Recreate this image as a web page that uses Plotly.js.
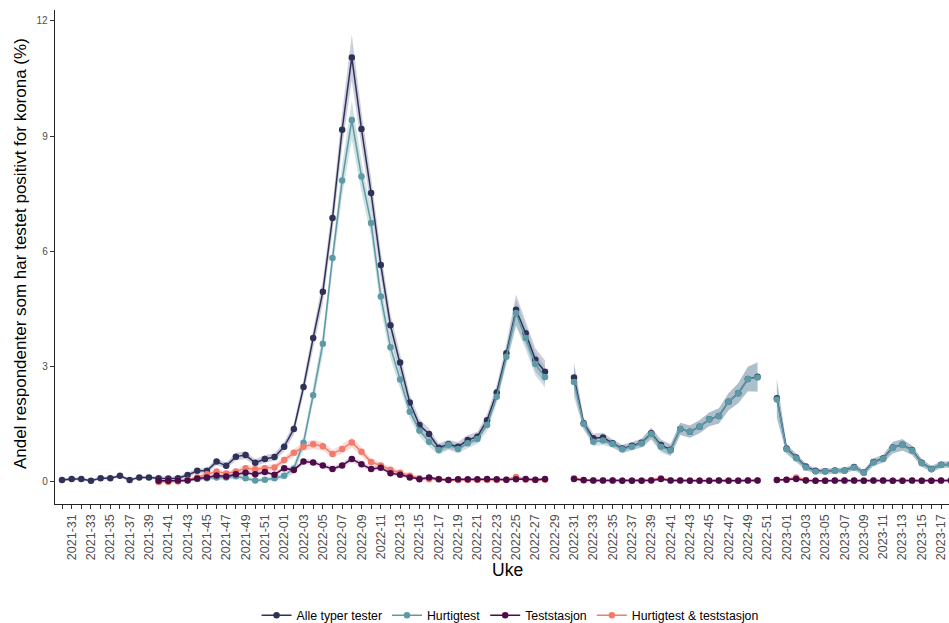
<!DOCTYPE html>
<html>
<head>
<meta charset="utf-8">
<script src="https://cdn.plot.ly/plotly-3.0.1.min.js"></script>
<style>html,body{margin:0;padding:0;background:#fff;}#chart{width:949px;height:623px;}</style>
</head>
<body>
<div id="chart"></div>
<script>
// ---- Week labels (2021-30 ... 2023-18) ----
const weekLabels = [];
[[2021, 30, 52], [2022, 1, 52], [2023, 1, 18]].forEach(function (r) {
  for (let w = r[1]; w <= r[2]; w++) weekLabels.push(r[0] + '-' + String(w).padStart(2, '0'));
});

const seriesNames = ['Alle typer tester', 'Hurtigtest', 'Teststasjon', 'Hurtigtest & teststasjon'];
const N = null;

// ---- Series values (%), one per week ----
const alle = [
  0.05, 0.08, 0.08, 0.03, 0.10, 0.10, 0.16, 0.05, 0.12, 0.12,
  0.10, 0.09, 0.10, 0.18, 0.29, 0.29, 0.53, 0.42, 0.66, 0.70,
  0.50, 0.60, 0.65, 0.92, 1.38, 2.47, 3.75, 4.95, 6.87, 9.17,
  11.05, 9.19, 7.52, 5.65, 4.08, 3.11, 2.07, 1.48, 1.25, 0.89,
  0.98, 0.92, 1.09, 1.18, 1.61, 2.33, 3.35, 4.48, 3.87, 3.18,
  2.87, N, N, 2.72, 1.53, 1.14, 1.16, 1.01, 0.87, 0.94,
  1.02, 1.27, 0.96, 0.84, 1.38, 1.31, 1.44, 1.63, 1.72, 2.09,
  2.31, 2.68, 2.74, N, 2.18, 0.87, 0.64, 0.40, 0.29, 0.28,
  0.30, 0.30, 0.39, 0.25, 0.52, 0.61, 0.90, 0.97, 0.83, 0.50,
  0.34, 0.45, 0.46
];
const hurtigtest = [
  N, N, N, N, N, N, N, N, N, N,
  0.02, 0.02, 0.03, 0.05, 0.08, 0.10, 0.12, 0.12, 0.15, 0.10,
  0.04, 0.06, 0.10, 0.16, 0.35, 1.02, 2.26, 3.60, 5.83, 7.85,
  9.42, 7.95, 6.74, 4.83, 3.51, 2.67, 1.83, 1.34, 1.05, 0.83,
  0.96, 0.86, 1.01, 1.12, 1.48, 2.22, 3.26, 4.40, 3.75, 3.07,
  2.73, N, N, 2.60, 1.51, 1.05, 1.08, 0.99, 0.85, 0.92,
  1.00, 1.25, 0.92, 0.82, 1.38, 1.31, 1.44, 1.63, 1.72, 2.09,
  2.31, 2.68, 2.72, N, 2.15, 0.85, 0.62, 0.38, 0.27, 0.27,
  0.29, 0.29, 0.38, 0.24, 0.51, 0.60, 0.89, 0.96, 0.82, 0.49,
  0.33, 0.44, 0.45
];
const teststasjon = [
  N, N, N, N, N, N, N, N, N, N,
  0.03, 0.03, 0.04, 0.04, 0.09, 0.12, 0.17, 0.14, 0.20, 0.24,
  0.20, 0.26, 0.19, 0.36, 0.31, 0.53, 0.51, 0.43, 0.34, 0.43,
  0.60, 0.46, 0.34, 0.37, 0.23, 0.19, 0.12, 0.07, 0.12, 0.07,
  0.05, 0.07, 0.07, 0.07, 0.08, 0.07, 0.06, 0.07, 0.08, 0.06,
  0.08, N, N, 0.08, 0.05, 0.04, 0.04, 0.04, 0.03, 0.03,
  0.03, 0.04, 0.08, 0.04, 0.04, 0.03, 0.03, 0.03, 0.04, 0.03,
  0.03, 0.04, 0.04, N, 0.05, 0.06, 0.08, 0.04, 0.03, 0.03,
  0.04, 0.04, 0.04, 0.03, 0.04, 0.04, 0.03, 0.03, 0.04, 0.03,
  0.03, 0.04, 0.04
];
const kombinert = [
  N, N, N, N, N, N, N, N, N, N,
  0.00, 0.00, 0.01, 0.05, 0.12, 0.20, 0.27, 0.22, 0.27, 0.36,
  0.33, 0.36, 0.38, 0.57, 0.76, 0.92, 0.98, 0.93, 0.73, 0.86,
  1.03, 0.79, 0.52, 0.43, 0.32, 0.24, 0.16, 0.10, 0.07, 0.08,
  0.05, 0.05, 0.05, 0.05, 0.05, 0.05, 0.06, 0.13, 0.06, 0.05,
  0.06, N, N, 0.10, 0.04, 0.04, 0.04, 0.04, 0.04, 0.04,
  0.04, 0.05, 0.10, 0.04, 0.04, 0.04, 0.04, 0.04, 0.04, 0.04,
  0.04, 0.04, 0.04, N, 0.05, 0.06, 0.12, 0.05, 0.03, 0.03,
  0.03, 0.03, 0.03, 0.03, 0.03, 0.03, 0.03, 0.03, 0.03, 0.03,
  0.03, 0.03, 0.03
];

// ---- Confidence-band half widths (percentage points) ----
const alleCI = [
  0.04, 0.04, 0.04, 0.04, 0.04, 0.04, 0.04, 0.04, 0.04, 0.04,
  0.05, 0.05, 0.05, 0.06, 0.07, 0.07, 0.09, 0.08, 0.10, 0.10,
  0.09, 0.10, 0.10, 0.12, 0.15, 0.20, 0.25, 0.30, 0.35, 0.45,
  0.60, 0.45, 0.40, 0.35, 0.30, 0.25, 0.20, 0.16, 0.14, 0.12,
  0.12, 0.12, 0.13, 0.13, 0.16, 0.20, 0.25, 0.40, 0.30, 0.30,
  0.30, N, N, 0.40, 0.15, 0.12, 0.12, 0.10, 0.10, 0.10,
  0.11, 0.15, 0.15, 0.15, 0.16, 0.16, 0.17, 0.18, 0.20, 0.22,
  0.26, 0.32, 0.38, N, 0.50, 0.12, 0.10, 0.08, 0.07, 0.07,
  0.07, 0.07, 0.08, 0.07, 0.10, 0.10, 0.15, 0.15, 0.12, 0.10,
  0.08, 0.08, 0.08
];
const hurtigCI = [
  N, N, N, N, N, N, N, N, N, N,
  0.03, 0.03, 0.03, 0.04, 0.05, 0.05, 0.06, 0.06, 0.07, 0.06,
  0.05, 0.05, 0.06, 0.08, 0.12, 0.18, 0.22, 0.28, 0.32, 0.40,
  0.50, 0.40, 0.36, 0.32, 0.28, 0.22, 0.18, 0.15, 0.13, 0.12,
  0.12, 0.12, 0.13, 0.13, 0.15, 0.18, 0.24, 0.35, 0.30, 0.30,
  0.28, N, N, 0.40, 0.15, 0.12, 0.12, 0.10, 0.10, 0.10,
  0.11, 0.15, 0.15, 0.15, 0.16, 0.16, 0.17, 0.18, 0.20, 0.22,
  0.26, 0.32, 0.38, N, 0.50, 0.12, 0.10, 0.08, 0.07, 0.07,
  0.07, 0.07, 0.08, 0.07, 0.10, 0.10, 0.15, 0.15, 0.12, 0.10,
  0.08, 0.08, 0.08
];
const stasjonCI = [
  N, N, N, N, N, N, N, N, N, N,
  0.03, 0.03, 0.03, 0.03, 0.04, 0.04, 0.05, 0.05, 0.05, 0.06,
  0.05, 0.06, 0.05, 0.06, 0.06, 0.07, 0.07, 0.06, 0.06, 0.07,
  0.08, 0.07, 0.06, 0.06, 0.05, 0.05, 0.04, 0.03, 0.04, 0.03,
  0.03, 0.03, 0.03, 0.03, 0.03, 0.03, 0.03, 0.03, 0.03, 0.03,
  0.03, N, N, 0.04, 0.03, 0.03, 0.03, 0.03, 0.03, 0.03,
  0.03, 0.03, 0.04, 0.03, 0.03, 0.03, 0.03, 0.03, 0.03, 0.03,
  0.03, 0.03, 0.03, N, 0.03, 0.03, 0.04, 0.03, 0.03, 0.03,
  0.03, 0.03, 0.03, 0.03, 0.03, 0.03, 0.03, 0.03, 0.03, 0.03,
  0.03, 0.03, 0.03
];
const kombCI = [
  N, N, N, N, N, N, N, N, N, N,
  0.03, 0.03, 0.03, 0.04, 0.05, 0.06, 0.07, 0.06, 0.07, 0.08,
  0.08, 0.08, 0.08, 0.09, 0.10, 0.11, 0.12, 0.11, 0.10, 0.11,
  0.13, 0.11, 0.09, 0.08, 0.07, 0.06, 0.05, 0.04, 0.04, 0.04,
  0.03, 0.03, 0.03, 0.03, 0.03, 0.03, 0.03, 0.05, 0.03, 0.03,
  0.03, N, N, 0.05, 0.03, 0.03, 0.03, 0.03, 0.03, 0.03,
  0.03, 0.03, 0.05, 0.03, 0.03, 0.03, 0.03, 0.03, 0.03, 0.03,
  0.03, 0.03, 0.03, N, 0.03, 0.03, 0.05, 0.03, 0.03, 0.03,
  0.03, 0.03, 0.03, 0.03, 0.03, 0.03, 0.03, 0.03, 0.03, 0.03,
  0.03, 0.03, 0.03
];

// ---- Styles ----
const lineColors = ['#2f3158', '#5e9aa6', '#4d0c49', '#f47a6c'];
const bandColors = ['rgba(60,62,115,0.25)', 'rgba(94,154,166,0.30)', 'rgba(100,20,95,0.18)', 'rgba(244,122,108,0.28)'];
const values = [alle, hurtigtest, teststasjon, kombinert];
const cis = [alleCI, hurtigCI, stasjonCI, kombCI];
const xIdx = weekLabels.map(function (_, i) { return i; });

function segments(arr) {
  const segs = []; let cur = null;
  arr.forEach(function (v, i) {
    if (v === null) { cur = null; return; }
    if (!cur) { cur = []; segs.push(cur); }
    cur.push(i);
  });
  return segs;
}

const traces = [];
// bands
[0, 1, 3, 2].forEach(function (s) {
  segments(values[s]).forEach(function (seg) {
    const xs = [], ys = [];
    seg.forEach(function (i) { xs.push(xIdx[i]); ys.push(values[s][i] + cis[s][i]); });
    seg.slice().reverse().forEach(function (i) { xs.push(xIdx[i]); ys.push(Math.max(values[s][i] - cis[s][i], 0)); });
    traces.push({ x: xs, y: ys, type: 'scatter', mode: 'lines', fill: 'toself',
      fillcolor: bandColors[s], line: { width: 0, color: 'rgba(0,0,0,0)' }, hoverinfo: 'skip', showlegend: false });
  });
});
// lines
[0, 1, 3, 2].forEach(function (s) {
  traces.push({ x: xIdx, y: values[s], type: 'scatter', mode: 'lines+markers', name: seriesNames[s],
    legendrank: s + 1, connectgaps: false,
    line: { color: lineColors[s], width: 1.5 }, marker: { color: lineColors[s], size: 6.5 } });
});

const tickText = weekLabels.map(function (l) { return (parseInt(l.slice(5), 10) % 2 === 1) ? l : ''; });
const font = 'Liberation Sans, Arial, sans-serif';

const layout = {
  width: 949, height: 623,
  margin: { l: 55, r: 0, t: 10, b: 119, autoexpand: false },
  paper_bgcolor: '#fff', plot_bgcolor: '#fff',
  font: { family: font, color: '#000' },
  showlegend: true,
  legend: { orientation: 'h', x: 0.509, xanchor: 'center', y: -0.225, yanchor: 'middle',
    font: { size: 12.3, family: font, color: '#000' }, traceorder: 'normal' },
  xaxis: { range: [-0.725, 91.82], tickmode: 'array', tickvals: xIdx, ticktext: tickText,
    tickangle: -90, ticks: 'outside', ticklen: 4, tickcolor: '#333', tickwidth: 1,
    tickfont: { size: 12.5, color: '#4d4d4d', family: font },
    showline: true, linecolor: '#222', linewidth: 1.3, showgrid: false, zeroline: false },
  yaxis: { range: [-0.573, 12.285], tickmode: 'array', tickvals: [0, 3, 6, 9, 12],
    ticks: 'outside', ticklen: 4, tickcolor: '#333', tickwidth: 1,
    tickfont: { size: 10, color: '#4d4d4d', family: font },
    showline: true, linecolor: '#222', linewidth: 1.3, showgrid: false, zeroline: false },
  annotations: [
    { text: 'Andel respondenter som har testet positivt for korona (%)', xref: 'paper', yref: 'paper',
      x: -0.0391, y: 0.506, textangle: -90, showarrow: false, xanchor: 'center', yanchor: 'middle',
      font: { size: 17, family: font, color: '#000' } },
    { text: 'Uke', xref: 'paper', yref: 'paper', x: 0.5056, y: -0.1336, showarrow: false,
      xanchor: 'center', yanchor: 'middle', font: { size: 17.5, family: font, color: '#000' } }
  ]
};

Plotly.newPlot('chart', traces, layout, { displayModeBar: false, staticPlot: true });
</script>
</body>
</html>
